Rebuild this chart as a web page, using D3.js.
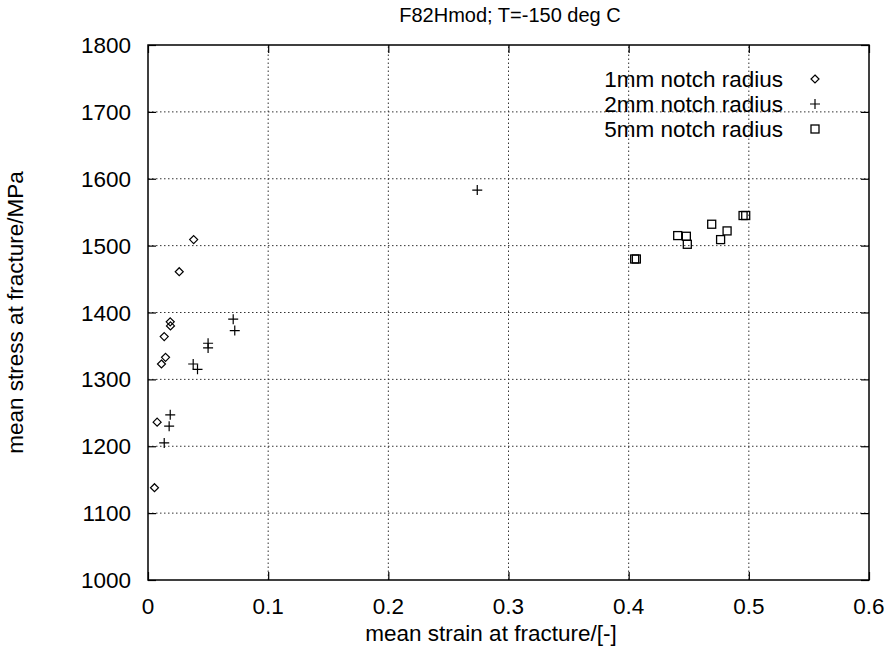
<!DOCTYPE html>
<html>
<head>
<meta charset="utf-8">
<script src="https://cdn.jsdelivr.net/npm/d3@7"></script>
<style>
	body { margin: 0; background: #fff; }
	text { font-family: "Liberation Sans", Arial, sans-serif; fill: #000; }
</style>
</head>
<body>
<div id="chart"></div>
<script>
	// data: [strain, stress]
	var notch1mm = [
		[0.0054, 1138], [0.0076, 1236], [0.0112, 1323], [0.0146, 1333],
		[0.0135, 1364], [0.0185, 1386], [0.0187, 1380], [0.026, 1461], [0.038, 1509]
	];
	var notch2mm = [
		[0.0135, 1205], [0.0176, 1230], [0.0185, 1247], [0.0376, 1323],
		[0.0412, 1315], [0.050, 1354], [0.050, 1347], [0.0709, 1390],
		[0.0722, 1373], [0.274, 1583]
	];
	var notch5mm = [
		[0.405, 1480], [0.4064, 1480], [0.4408, 1515], [0.448, 1514],
		[0.4488, 1502], [0.4691, 1532], [0.4765, 1509], [0.4819, 1522],
		[0.4952, 1545], [0.4974, 1545]
	];
	var xTicks = [0, 0.1, 0.2, 0.3, 0.4, 0.5, 0.6];
	var yTicks = [1000, 1100, 1200, 1300, 1400, 1500, 1600, 1700, 1800];
	var legendLabels = ["1mm notch radius", "2mm notch radius", "5mm notch radius"];

	var width = 889, height = 650;
	var margin = { left: 148, right: 20, top: 45, bottom: 70 };
	var svg = d3.select("#chart").append("svg")
		.attr("width", width).attr("height", height);

	var x = d3.scaleLinear().domain([0, 0.6]).range([margin.left, width - margin.right]);
	var y = d3.scaleLinear().domain([1000, 1800]).range([height - margin.bottom, margin.top]);

	const fs = 22.5;

	// grid
	svg.append("g").selectAll("line").data(xTicks.slice(1, -1)).join("line")
		.attr("x1", d => x(d)).attr("x2", d => x(d))
		.attr("y1", y(1000)).attr("y2", y(1800))
		.attr("stroke", "#333").attr("stroke-width", 1).attr("stroke-dasharray", "1.5,2.5");
	svg.append("g").selectAll("line").data(yTicks.slice(1, -1)).join("line")
		.attr("x1", x(0)).attr("x2", x(0.6))
		.attr("y1", d => y(d)).attr("y2", d => y(d))
		.attr("stroke", "#333").attr("stroke-width", 1).attr("stroke-dasharray", "1.5,2.5");

	// axes, ticks pointing inward (mirrored on all sides)
	var tk = 8;
	svg.append("g").attr("transform", `translate(0,${y(1000)})`)
		.call(d3.axisTop(x).tickValues(xTicks).tickSize(tk).tickFormat(""))
		.call(g => g.select(".domain").remove());
	svg.append("g").attr("transform", `translate(0,${y(1800)})`)
		.call(d3.axisBottom(x).tickValues(xTicks).tickSize(tk).tickFormat(""))
		.call(g => g.select(".domain").remove());
	svg.append("g").attr("transform", `translate(${x(0)},0)`)
		.call(d3.axisRight(y).tickValues(yTicks).tickSize(tk).tickFormat(""))
		.call(g => g.select(".domain").remove());
	svg.append("g").attr("transform", `translate(${x(0.6)},0)`)
		.call(d3.axisLeft(y).tickValues(yTicks).tickSize(tk).tickFormat(""))
		.call(g => g.select(".domain").remove());
	svg.selectAll(".tick line").attr("stroke", "#000").attr("stroke-width", 1.2);

	svg.append("rect")
		.attr("x", x(0)).attr("y", y(1800))
		.attr("width", x(0.6) - x(0)).attr("height", y(1000) - y(1800))
		.attr("fill", "none").attr("stroke", "#000").attr("stroke-width", 1.5);

	// tick labels
	svg.append("g").selectAll("text").data(xTicks).join("text")
		.attr("x", d => x(d)).attr("y", y(1000) + 34)
		.attr("text-anchor", "middle").attr("font-size", fs)
		.text(d => d3.format("")(d));
	svg.append("g").selectAll("text").data(yTicks).join("text")
		.attr("x", x(0) - 17).attr("y", d => y(d) + 8)
		.attr("text-anchor", "end").attr("font-size", fs)
		.text(d => d);

	// titles
	svg.append("text").attr("x", 510).attr("y", 22)
		.attr("text-anchor", "middle").attr("font-size", 20)
		.text("F82Hmod; T=-150 deg C");
	svg.append("text").attr("x", 491).attr("y", 641)
		.attr("text-anchor", "middle").attr("font-size", fs)
		.text("mean strain at fracture/[-]");
	svg.append("text")
		.attr("transform", `translate(23,${(y(1000) + y(1800)) / 2}) rotate(-90)`)
		.attr("text-anchor", "middle").attr("font-size", fs)
		.text("mean stress at fracture/MPa");

	// markers
	const diamond = (g, s) => g.append("path")
		.attr("d", `M0,${-s}L${s},0L0,${s}L${-s},0Z`)
		.attr("fill", "none").attr("stroke", "#000").attr("stroke-width", 1.2);
	const plus = (g, s) => g.append("path")
		.attr("d", `M${-s},0H${s}M0,${-s}V${s}`)
		.attr("fill", "none").attr("stroke", "#000").attr("stroke-width", 1.2);
	const square = (g, s) => g.append("rect")
		.attr("x", -s).attr("y", -s).attr("width", 2 * s).attr("height", 2 * s)
		.attr("fill", "none").attr("stroke", "#000").attr("stroke-width", 1.3);

	var series = [
		{ data: notch1mm, draw: diamond, size: 4 },
		{ data: notch2mm, draw: plus, size: 5 },
		{ data: notch5mm, draw: square, size: 4 }
	];

	series.forEach(s => {
		svg.append("g").selectAll("g").data(s.data).join("g")
			.attr("transform", d => `translate(${x(d[0])},${y(d[1])})`)
			.each(function () { s.draw(d3.select(this), s.size); });
	});

	// legend
	series.forEach((s, i) => {
		var ly = 79 + i * 25;
		svg.append("text").attr("x", 783).attr("y", ly + 8)
			.attr("text-anchor", "end").attr("font-size", 22.5)
			.text(legendLabels[i]);
		s.draw(svg.append("g").attr("transform", `translate(815,${ly})`), s.size);
	});
</script>
</body>
</html>
